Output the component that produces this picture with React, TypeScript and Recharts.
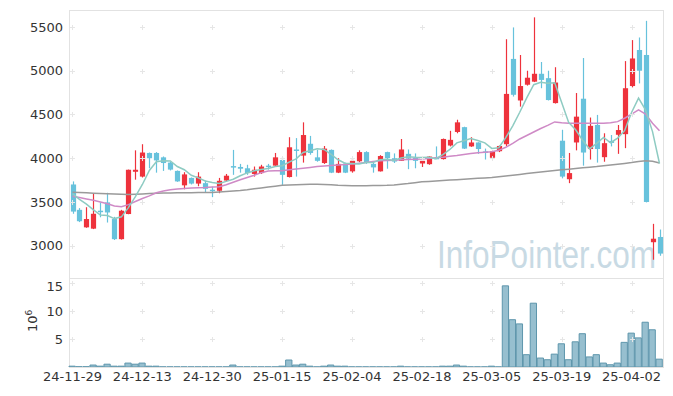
import React from 'react';
import { ComposedChart, Bar, Line, XAxis, YAxis, ReferenceDot } from 'recharts';

const dates = [
  '24-11-29', '24-12-02', '24-12-03', '24-12-04', '24-12-05', '24-12-06', '24-12-09', '24-12-10', '24-12-11', '24-12-12',
  '24-12-13', '24-12-16', '24-12-17', '24-12-18', '24-12-19', '24-12-20', '24-12-23', '24-12-24', '24-12-26', '24-12-27',
  '24-12-30', '25-01-02', '25-01-03', '25-01-06', '25-01-07', '25-01-08', '25-01-09', '25-01-10', '25-01-13', '25-01-14',
  '25-01-15', '25-01-16', '25-01-17', '25-01-20', '25-01-21', '25-01-22', '25-01-23', '25-01-24', '25-01-31', '25-02-03',
  '25-02-04', '25-02-05', '25-02-06', '25-02-07', '25-02-10', '25-02-11', '25-02-12', '25-02-13', '25-02-14', '25-02-17',
  '25-02-18', '25-02-19', '25-02-20', '25-02-21', '25-02-24', '25-02-25', '25-02-26', '25-02-27', '25-02-28', '25-03-04',
  '25-03-05', '25-03-06', '25-03-07', '25-03-10', '25-03-11', '25-03-12', '25-03-13', '25-03-14', '25-03-17', '25-03-18',
  '25-03-19', '25-03-20', '25-03-21', '25-03-24', '25-03-25', '25-03-26', '25-03-27', '25-03-28', '25-03-31', '25-04-01',
  '25-04-02', '25-04-03', '25-04-04', '25-04-07', '25-04-08',
];

const open = [
  3700, 3410, 3210, 3195, 3400, 3495, 3305, 3075, 3362, 3845,
  3790, 4060, 4060, 4010, 3950, 3855, 3690, 3775, 3710, 3715,
  3640, 3628, 3745, 3910, 3900, 3885, 3820, 3830, 3915, 3915,
  3980, 3785, 4100, 4030, 4165, 4010, 3945, 4095, 3835, 3940,
  3850, 3965, 4070, 3935, 3850, 4070, 4000, 3970, 4050, 4005,
  3940, 3932, 4005, 3990, 4145, 4300, 4355, 4135, 4180, 4078,
  4005, 4080, 4160, 5135, 4660, 4840, 4875, 4965, 4915, 4630,
  4200, 3760, 4180, 4680, 4105, 4380, 4012, 4198, 4268, 4275,
  4825, 5237, 5180, 3040, 3100,
];
const high = [
  3735, 3430, 3440, 3600, 3495, 3605, 3330, 3410, 3870, 4090,
  4160, 4065, 4070, 4020, 3960, 3860, 3840, 3780, 3840, 3745,
  3675, 3775, 3820, 4095, 3935, 3925, 3905, 3925, 3935, 4060,
  4010, 4240, 4230, 4410, 4255, 4095, 4140, 4100, 4000, 3950,
  4000, 4090, 4080, 3945, 4035, 4075, 4055, 4220, 4100, 4055,
  3972, 4022, 4135, 4225, 4313, 4440, 4360, 4240, 4182, 4110,
  4085, 4145, 5360, 5495, 5180, 5000, 5610, 5100, 5000, 5040,
  4325, 4060, 4745, 5145, 4465, 4495, 4285, 4265, 4380, 5110,
  5350, 5380, 5570, 3250, 3185,
];
const low = [
  3365, 3270, 3205, 3190, 3325, 3265, 3065, 3070, 3360, 3755,
  3780, 3885, 3835, 3855, 3860, 3730, 3645, 3700, 3680, 3605,
  3555, 3600, 3735, 3810, 3835, 3810, 3790, 3820, 3870, 3905,
  3695, 3780, 3790, 3950, 4040, 3960, 3935, 3830, 3830, 3830,
  3835, 3955, 3935, 3835, 3848, 3880, 3945, 3968, 3875, 3885,
  3900, 3925, 3990, 3985, 4135, 4285, 4105, 4130, 4050, 3985,
  4000, 4070, 4140, 4705, 4590, 4830, 4870, 4800, 4660, 4625,
  3770, 3715, 4090, 3915, 3985, 3950, 3960, 4135, 4050, 4115,
  4810, 4855, 3495, 2840, 2885,
];
const close = [
  3390, 3280, 3305, 3365, 3385, 3380, 3075, 3400, 3868, 3868,
  4065, 4000, 3975, 3945, 3870, 3735, 3815, 3710, 3790, 3650,
  3628, 3742, 3800, 3900, 3880, 3830, 3868, 3905, 3900, 4010,
  3810, 4125, 4090, 4265, 4060, 3970, 4110, 3835, 3935, 3835,
  3970, 4070, 3950, 3895, 4025, 4000, 3962, 4100, 3995, 3970,
  3970, 4019, 3995, 4220, 4210, 4410, 4110, 4180, 4105, 4068,
  4080, 4140, 4735, 4725, 4825, 4920, 4965, 4895, 4665, 4865,
  3790, 3830, 4475, 4065, 4370, 4105, 4172, 4175, 4322, 4800,
  5140, 5000, 3500, 3080, 2910,
];
const ma5 = [
  3595, 3530, 3475, 3410, 3350, 3345, 3310, 3330, 3435, 3560,
  3700, 3860, 3960, 3972, 3968, 3905, 3868, 3805, 3775, 3740,
  3722, 3712, 3735, 3760, 3800, 3832, 3856, 3870, 3882, 3905,
  3915, 3955, 3992, 4065, 4085, 4108, 4100, 4045, 3982, 3942,
  3940, 3935, 3952, 3950, 3982, 3988, 3975, 4002, 4016, 4010,
  4008, 4011, 3995, 4042, 4100, 4175, 4200, 4226, 4203, 4175,
  4112, 4120, 4235, 4370, 4525, 4690, 4840, 4868, 4858, 4862,
  4636, 4409, 4325, 4205, 4106, 4169, 4237, 4177, 4229, 4315,
  4522, 4687, 4552, 4304, 3940,
];
const ma20 = [
  3565, 3550, 3535, 3520, 3500, 3480, 3455, 3445, 3470, 3505,
  3540, 3570, 3605, 3625, 3640, 3647, 3655, 3660, 3662, 3665,
  3670, 3675, 3696, 3725, 3753, 3780, 3805, 3835, 3855, 3857,
  3856, 3868, 3878, 3886, 3895, 3905, 3912, 3917, 3922, 3927,
  3935, 3943, 3952, 3962, 3970, 3975, 3978, 3982, 3985, 3988,
  3990, 3996, 4004, 4012, 4022, 4031, 4043, 4055, 4062, 4068,
  4073, 4090, 4125, 4170, 4220, 4260, 4300, 4340, 4375, 4415,
  4405, 4400, 4400, 4400, 4400, 4400, 4400, 4405, 4418, 4457,
  4505, 4552, 4505, 4400, 4314,
];
const ma60 = [
  3610, 3607, 3604, 3600, 3597, 3594, 3590, 3587, 3585, 3588,
  3592, 3596, 3599, 3602, 3603, 3604, 3605, 3606, 3607, 3607,
  3608, 3614, 3620, 3626, 3632, 3640, 3650, 3660, 3670, 3680,
  3690, 3694, 3697, 3700, 3702, 3702, 3700, 3696, 3690, 3687,
  3685, 3685, 3686, 3687, 3689, 3690, 3695, 3702, 3710, 3720,
  3730, 3735, 3740, 3745, 3750, 3755, 3760, 3765, 3770, 3775,
  3780, 3788, 3797, 3806, 3815, 3825, 3834, 3843, 3851, 3860,
  3868, 3875, 3883, 3890, 3898, 3905, 3914, 3923, 3932, 3941,
  3950, 3962, 3970, 3965, 3945,
];
// volume in millions of shares
const volume = [
  0.15, 0.05, 0.05, 0.35, 0.15, 0.5, 0.15, 0.15, 0.7, 0.5,
  0.7, 0.15, 0.15, 0.02, 0.02, 0.02, 0.02, 0.02, 0.02, 0.02,
  0.02, 0.02, 0.02, 0.35, 0.02, 0.02, 0.02, 0.02, 0.02, 0.02,
  0.15, 1.25, 0.35, 0.5, 0.15, 0.02, 0.15, 0.35, 0.15, 0.15,
  0.02, 0.02, 0.02, 0.02, 0.02, 0.02, 0.02, 0.15, 0.02, 0.02,
  0.02, 0.02, 0.02, 0.15, 0.15, 0.35, 0.15, 0.02, 0.02, 0.02,
  0.15, 0.02, 14.5, 8.45, 7.7, 2.2, 11.4, 1.6, 1.3, 2.3,
  4.15, 1.3, 4.5, 5.95, 1.8, 2.2, 0.7, 0.4, 0.7, 4.4,
  6.05, 5.2, 8.0, 6.65, 1.4,
];

const priceTicks = [3000, 3500, 4000, 4500, 5000, 5500];
const volumeTicks = [5, 10, 15];
const xTickDates = dates.filter((_, i) => i % 10 === 0);

const rows = dates.map((d, i) => ({
  d,
  open: open[i],
  high: high[i],
  low: low[i],
  close: close[i],
  range: [low[i], high[i]],
  ma5: ma5[i],
  ma20: ma20[i],
  ma60: ma60[i],
  vol: volume[i],
}));

const UP = '#ee323c';
const DOWN = '#67c2dc';
const FONT = 'DejaVu Sans, sans-serif';
const FRAME = '#e2e2e2';

function Candle(props: any) {
  const { x, y, width, height, payload } = props;
  if (!payload) return null;
  const top = Math.min(y, y + height);
  const h = Math.abs(height);
  const span = payload.high - payload.low;
  const k = span > 0 ? h / span : 0;
  const cx = Math.round(x + width / 2) + 0.5;
  const yO = top + (payload.high - payload.open) * k;
  const yC = top + (payload.high - payload.close) * k;
  const color = payload.close >= payload.open ? UP : DOWN;
  const bTop = Math.min(yO, yC);
  const bH = Math.max(1.5, Math.abs(yO - yC));
  return (
    <g>
      <line x1={cx} x2={cx} y1={top} y2={top + h} stroke={color} strokeWidth={1.2} />
      <rect x={cx - 2.6} y={bTop} width={5.2} height={bH} fill={color} />
    </g>
  );
}

function Plus(p: any) {
  const cx = Math.round(p.cx) + 0.5;
  const cy = Math.round(p.cy) + 0.5;
  return <path d={`M${cx - 2.5},${cy}h5M${cx},${cy - 2.5}v5`} stroke="#e6e6e6" strokeWidth={1} fill="none" />;
}

const tickStyle = { fill: '#333', fontSize: 13, fontFamily: FONT };

export default function App() {
  return (
    <div style={{ position: 'absolute', left: 0, top: 0, width: 673, height: 396, background: '#fff', overflow: 'hidden' }}>
      <svg width={673} height={396} style={{ position: 'absolute', left: 0, top: 0 }}>
        <g transform="translate(437,268) scale(0.83,1)">
          <text
            x={0}
            y={0}
            fontSize={38}
            fontFamily="Liberation Sans, Arial, sans-serif"
            fill="#c8dae4"
          >
            InfoPointer.com
          </text>
        </g>
        <g transform="translate(37,332) rotate(-90)">
          <text x={0} y={0} fontSize={13} fontFamily={FONT} fill="#333">10</text>
          <text x={16.5} y={-5} fontSize={9} fontFamily={FONT} fill="#333">6</text>
        </g>
      </svg>
      <div style={{ position: 'absolute', left: 69, top: 10, width: 595, height: 269, border: `1px solid ${FRAME}`, boxSizing: 'border-box' }} />
      <div style={{ position: 'absolute', left: 69, top: 278, width: 595, height: 90, border: `1px solid ${FRAME}`, boxSizing: 'border-box' }} />
      <div style={{ position: 'absolute', left: 0, top: 0 }}>
        <ComposedChart width={673} height={278} data={rows} margin={{ top: 10, right: 10, bottom: 0, left: 0 }}>
          <XAxis dataKey="d" type="category" hide />
          <YAxis
            domain={[2631, 5694]}
            ticks={priceTicks}
            width={69}
            axisLine={false}
            tickLine={false}
            tickSize={4}
            tickMargin={2}
            tick={tickStyle}
            allowDataOverflow
          />
          {xTickDates.map((d) =>
            priceTicks.map((v) => (
              <ReferenceDot key={`${d}-${v}`} x={d} y={v} r={3} shape={Plus} ifOverflow="visible" />
            ))
          )}
          <Bar dataKey="range" barSize={5} shape={Candle} isAnimationActive={false} />
          <Line type="linear" dataKey="ma60" stroke="#9a9a9a" strokeWidth={1.5} dot={false} isAnimationActive={false} />
          <Line type="linear" dataKey="ma20" stroke="#cf8ac6" strokeWidth={1.5} dot={false} isAnimationActive={false} />
          <Line type="linear" dataKey="ma5" stroke="#8ecbc2" strokeWidth={1.5} dot={false} isAnimationActive={false} />
        </ComposedChart>
      </div>
      <div style={{ position: 'absolute', left: 0, top: 278 }}>
        <ComposedChart width={673} height={118} data={rows} margin={{ top: 0, right: 10, bottom: 0, left: 0 }}>
          <XAxis
            dataKey="d"
            type="category"
            interval={9}
            height={29}
            axisLine={false}
            tickLine={false}
            tickSize={3}
            tickMargin={2}
            tick={tickStyle}
          />
          <YAxis
            domain={[0, 15.9]}
            ticks={volumeTicks}
            width={69}
            axisLine={false}
            tickLine={false}
            tickSize={4}
            tickMargin={2}
            tick={tickStyle}
            allowDataOverflow
          />
          {xTickDates.map((d) =>
            volumeTicks.map((v) => (
              <ReferenceDot key={`${d}-${v}`} x={d} y={v} r={3} shape={Plus} ifOverflow="visible" />
            ))
          )}
          <Bar dataKey="vol" barSize={7} fill="#97bfcf" stroke="#5e96ac" strokeWidth={1} isAnimationActive={false} />
        </ComposedChart>
      </div>
    </div>
  );
}
